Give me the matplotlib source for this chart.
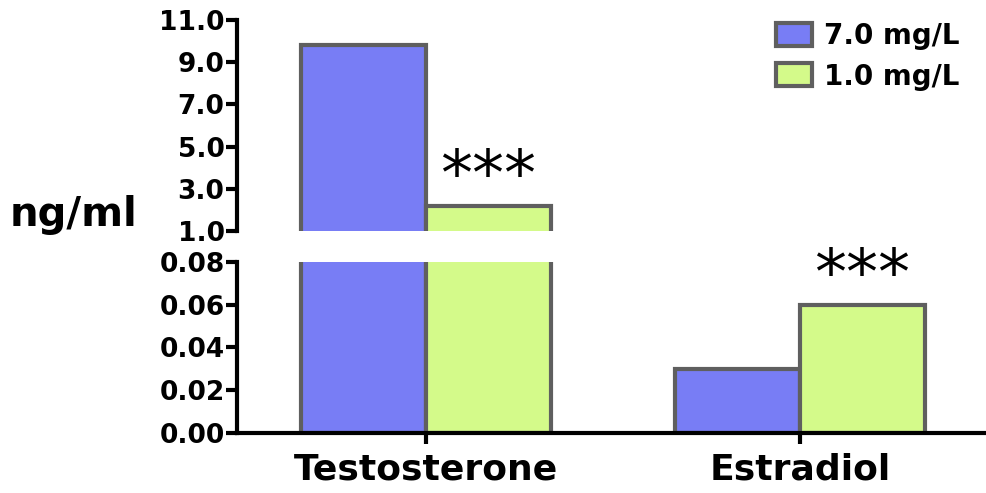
import matplotlib
matplotlib.use("Agg")
import matplotlib.pyplot as plt
import numpy as np

# Hormone levels (ng/ml) for the two dose groups
hormones = ["Testosterone", "Estradiol"]
dose_labels = ["7.0 mg/L", "1.0 mg/L"]
high_dose = [9.8, 0.03]
low_dose = [2.2, 0.06]
significance = ["***", "***"]

# broken y axis: upper and lower segments
upper_ticks = [1.0, 3.0, 5.0, 7.0, 9.0, 11.0]
lower_ticks = [0.00, 0.02, 0.04, 0.06, 0.08]

BLUE = "#787df5"
GREEN = "#d4fa8a"
EDGE = "#5f5f5f"
LW = 3.0


def draw_bars(ax, x, width):
    ax.bar(x - width / 2, high_dose, width, color=BLUE, edgecolor=EDGE,
           linewidth=LW, label=dose_labels[0])
    ax.bar(x + width / 2, low_dose, width, color=GREEN, edgecolor=EDGE,
           linewidth=LW, label=dose_labels[1])


def main():
    plt.rcParams["font.family"] = "DejaVu Sans"
    fig = plt.figure(figsize=(9.86, 4.93), dpi=100)

    left, right = 0.2404, 0.999
    ax_top = fig.add_axes([left, 0.5314, right - left, 0.428])
    ax_bot = fig.add_axes([left, 0.1217, right - left, 0.347])

    x = np.arange(len(hormones))
    width = 0.334

    for ax in (ax_top, ax_bot):
        draw_bars(ax, x, width)
        ax.set_xlim(-0.505, 1.495)
        ax.spines["right"].set_visible(False)
        ax.spines["top"].set_visible(False)
        ax.spines["left"].set_linewidth(LW)
        ax.spines["bottom"].set_linewidth(LW)
        ax.tick_params(axis="y", length=8, width=LW, pad=1, labelsize=19)

    # upper segment
    ax_top.set_ylim(upper_ticks[0], upper_ticks[-1])
    ax_top.set_yticks(upper_ticks)
    ax_top.set_yticklabels([f"{t:.1f}" for t in upper_ticks],
                           fontweight="bold", fontsize=19)
    ax_top.spines["bottom"].set_visible(False)
    ax_top.set_xticks([])

    # lower segment
    ax_bot.set_ylim(lower_ticks[0], lower_ticks[-1])
    ax_bot.set_yticks(lower_ticks)
    ax_bot.set_yticklabels([f"{t:.2f}" for t in lower_ticks],
                           fontweight="bold", fontsize=19)
    ax_bot.set_xticks(x)
    ax_bot.set_xticklabels(hormones, fontweight="bold", fontsize=26)
    ax_bot.tick_params(axis="x", length=8, width=LW, pad=6)

    # significance marks over the low-dose bars
    for i, (val, mark) in enumerate(zip(low_dose, significance)):
        ax = ax_top if val > upper_ticks[0] else ax_bot
        ax.annotate(mark, xy=(x[i] + width / 2, val), xytext=(0, -2),
                    textcoords="offset points", ha="center", va="bottom",
                    fontsize=46, annotation_clip=False)

    fig.text(0.01, 1 - 215 / 493, "ng/ml", fontsize=29, fontweight="bold",
             ha="left", va="center")

    ax_top.legend(loc="upper left", bbox_to_anchor=(0.762, 1.006),
                  bbox_transform=fig.transFigure, frameon=False,
                  prop={"size": 20, "weight": "bold"}, handlelength=1.3,
                  handleheight=0.9, handletextpad=0.4, labelspacing=0.45)

    plt.savefig("out.png", dpi=100)
    plt.close()


if __name__ == "__main__":
    main()
